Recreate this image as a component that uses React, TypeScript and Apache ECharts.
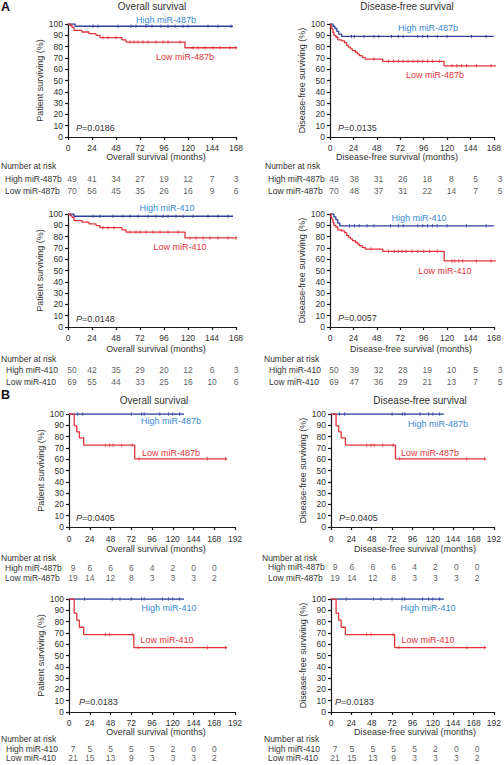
import React, { useEffect, useRef } from "react";
import * as echarts from "echarts";

const FONT = "'Liberation Sans', Arial, Helvetica, sans-serif";
const HIGH_LINE = "#2f3f9c";
const HIGH_TEXT = "#3a8ad2";
const LOW_LINE = "#e2343c";
const LOW_TEXT = "#e2343c";
const INK = "#333333";
const AXIS = "#1a1a1a";

// months at which the numbers at risk are given
const riskMonths = [0, 24, 48, 72, 96, 120, 144, 168];

// ---- A1: overall survival, miR-487b
const a1HighT = [0, 7, 165];
const a1HighS = [100, 98, 98];
const a1HighCens = [25, 30, 50, 63, 68, 78, 84, 93, 100, 107, 115, 120, 140, 150, 163];
const a1LowT = [0, 2, 4, 6, 14, 21, 28, 32, 54, 58, 117, 169];
const a1LowS = [100, 98.6, 97.1, 94.3, 92.9, 91.4, 89.9, 88.0, 86.0, 84.0, 79.0, 79.0];
const a1LowCens = [35, 40, 48, 62, 66, 70, 75, 80, 88, 95, 100, 112, 125, 130, 137, 145, 152, 162, 168];
const a1RiskHigh = [49, 41, 34, 27, 19, 12, 7, 3];
const a1RiskLow = [70, 56, 45, 35, 26, 16, 9, 6];

// ---- A2: disease-free survival, miR-487b
const a2HighT = [0, 3, 5, 7, 9, 12, 168];
const a2HighS = [100, 98, 96, 93.5, 91, 89, 89];
const a2HighCens = [22, 25, 35, 45, 50, 63, 70, 75, 90, 95, 100, 110, 120, 145, 160];
const a2LowT = [0, 1, 2, 3, 4, 6, 8, 12, 15, 17, 19, 21, 23, 26, 28, 30, 33, 36, 54, 117, 170];
const a2LowS = [100, 97, 95.5, 92.5, 90, 88.5, 86, 85, 83.5, 81, 79.5, 78, 76.5, 75, 73.5, 72, 70.5, 69, 67, 63, 63];
const a2LowCens = [45, 60, 65, 70, 75, 80, 85, 90, 95, 100, 105, 112, 125, 130, 135, 140, 150, 165];
const a2RiskHigh = [49, 38, 31, 26, 18, 8, 5, 3];
const a2RiskLow = [70, 48, 37, 31, 22, 14, 7, 5];

// ---- A3: overall survival, miR-410
const a3HighT = [0, 6, 165];
const a3HighS = [100, 98, 98];
const a3HighCens = [25, 32, 45, 55, 62, 70, 80, 88, 95, 100, 108, 115, 125, 140, 150, 160];
const a3LowT = [0, 2, 4, 6, 14, 21, 28, 32, 54, 58, 117, 169];
const a3LowS = [100, 98.6, 97.1, 94.2, 92.8, 91.3, 89.8, 87.9, 86.0, 84.0, 78.8, 78.8];
const a3LowCens = [35, 40, 46, 62, 68, 72, 78, 85, 92, 100, 110, 122, 128, 135, 142, 150, 160, 168];
const a3RiskHigh = [50, 42, 35, 29, 20, 12, 6, 3];
const a3RiskLow = [69, 55, 44, 33, 25, 16, 10, 6];

// ---- A4: disease-free survival, miR-410
const a4HighT = [0, 4, 6, 8, 10, 168];
const a4HighS = [100, 97.5, 95, 92, 89.5, 89.5];
const a4HighCens = [20, 25, 30, 38, 45, 62, 70, 75, 90, 95, 100, 105, 110, 120, 140, 160];
const a4LowT = [0, 1, 2, 3, 4, 6, 8, 12, 15, 17, 19, 21, 23, 26, 28, 30, 33, 36, 54, 117, 170];
const a4LowS = [100, 97, 95.5, 92.5, 90, 88.5, 86, 85, 83.5, 81, 79.5, 78, 76.5, 75, 73.5, 72, 70.5, 69, 67, 58.5, 58.5];
const a4LowCens = [42, 60, 66, 70, 74, 78, 84, 90, 96, 102, 110, 125, 128, 132, 136, 150, 165];
const a4RiskHigh = [50, 39, 32, 28, 19, 10, 5, 3];
const a4RiskLow = [69, 47, 36, 29, 21, 13, 7, 5];

// ---- B1 / B2: overall and disease-free survival, miR-487b
const b1HighT = [0, 133];
const b1HighS = [100, 100];
const b1HighCens = [10, 16, 72, 84, 87, 105, 115, 120, 128];
const b1LowT = [0, 6, 9, 12, 17, 76, 183];
const b1LowS = [100, 89.5, 84.2, 78.9, 72.4, 60.3, 60.3];
const b1LowCens = [42, 47, 51, 61, 73, 81, 160, 181];
const b1RiskHigh = [9, 6, 6, 6, 4, 2, 0, 0];
const b1RiskLow = [19, 14, 12, 8, 3, 3, 3, 2];

// ---- B3 / B4: overall and disease-free survival, miR-410
const b3HighT = [0, 133];
const b3HighS = [100, 100];
const b3HighCens = [18, 50, 59, 72, 84, 87, 108, 115, 120, 128];
const b3LowT = [0, 6, 9, 12, 17, 75, 183];
const b3LowS = [100, 87.5, 81.3, 75, 68.5, 57, 57];
const b3LowCens = [42, 47, 73, 80, 160, 181];
const b3RiskHigh = [7, 5, 5, 5, 5, 2, 0, 0];
const b3RiskLow = [21, 15, 13, 9, 3, 3, 3, 2];

type Curve = { t: number[]; s: number[]; c: number[] };
type Panel = {
  title?: string;
  xName: string;
  yName: string;
  max: number;
  high: Curve;
  low: Curve;
  highName: string;
  lowName: string;
  riskHigh: number[];
  riskLow: number[];
  p: string;
  L: {
    left: number; top: number; width: number; height: number;
    titleX?: number; titleY?: number;
    xLabelMargin: number; xNameGap: number; xNamePad: number[];
    hx: number; hy: number; lx: number; ly: number; px: number; py: number;
    headX: number; headY: number; rowX: number; riskTop: number; riskBottom: number;
  };
};

const OS = "Overall survival";
const DFS = "Disease-free survival";

const panels: Panel[] = [
  {
    title: OS, xName: "Overall survival (months)", yName: "Patient surviving (%)", max: 168,
    high: { t: a1HighT, s: a1HighS, c: a1HighCens }, low: { t: a1LowT, s: a1LowS, c: a1LowCens },
    highName: "High miR-487b", lowName: "Low miR-487b", riskHigh: a1RiskHigh, riskLow: a1RiskLow, p: "=0.0186",
    L: { left: 68, top: 24, width: 168, height: 113, titleX: 152, titleY: 6, xLabelMargin: 6, xNameGap: 15, xNamePad: [0, 0, 0, 8],
      hx: 166, hy: 20, lx: 185, ly: 57, px: 76, py: 128, headX: 1, headY: 166, rowX: 5, riskTop: 179, riskBottom: 191 },
  },
  {
    title: DFS, xName: "Disease-free survival (months)", yName: "Disease-free surviving (%)", max: 168,
    high: { t: a2HighT, s: a2HighS, c: a2HighCens }, low: { t: a2LowT, s: a2LowS, c: a2LowCens },
    highName: "High miR-487b", lowName: "Low miR-487b", riskHigh: a2RiskHigh, riskLow: a2RiskLow, p: "=0.0135",
    L: { left: 330, top: 24, width: 170, height: 113, titleX: 407, titleY: 6, xLabelMargin: 6, xNameGap: 15, xNamePad: [0, 30, 0, 0],
      hx: 428, hy: 28, lx: 435, ly: 75, px: 338, py: 128, headX: 265, headY: 166, rowX: 268, riskTop: 179, riskBottom: 191 },
  },
  {
    xName: "Overall survival (months)", yName: "Patient surviving (%)", max: 168,
    high: { t: a3HighT, s: a3HighS, c: a3HighCens }, low: { t: a3LowT, s: a3LowS, c: a3LowCens },
    highName: "High miR-410", lowName: "Low miR-410", riskHigh: a3RiskHigh, riskLow: a3RiskLow, p: "=0.0148",
    L: { left: 68, top: 214, width: 168, height: 113, xLabelMargin: 6, xNameGap: 17, xNamePad: [0, 0, 0, 8],
      hx: 167, hy: 208, lx: 180, ly: 247, px: 76, py: 319, headX: 1, headY: 359, rowX: 6, riskTop: 370, riskBottom: 382 },
  },
  {
    xName: "Disease-free survival (months)", yName: "Disease-free surviving (%)", max: 168,
    high: { t: a4HighT, s: a4HighS, c: a4HighCens }, low: { t: a4LowT, s: a4LowS, c: a4LowCens },
    highName: "High miR-410", lowName: "Low miR-410", riskHigh: a4RiskHigh, riskLow: a4RiskLow, p: "=0.0057",
    L: { left: 330, top: 214, width: 170, height: 113, xLabelMargin: 6, xNameGap: 17, xNamePad: [0, 2, 0, 0],
      hx: 419, hy: 218, lx: 445, ly: 271, px: 338, py: 318, headX: 264, headY: 359, rowX: 269, riskTop: 370, riskBottom: 382 },
  },
  {
    title: OS, xName: "Overall survival (months)", yName: "Patient surviving (%)", max: 192,
    high: { t: b1HighT, s: b1HighS, c: b1HighCens }, low: { t: b1LowT, s: b1LowS, c: b1LowCens },
    highName: "High miR-487b", lowName: "Low miR-487b", riskHigh: b1RiskHigh, riskLow: b1RiskLow, p: "=0.0405",
    L: { left: 69, top: 414, width: 166, height: 113, titleX: 154, titleY: 400, xLabelMargin: 7, xNameGap: 17, xNamePad: [0, 0, 0, 8],
      hx: 171, hy: 421, lx: 171, ly: 453, px: 76, py: 518, headX: 1, headY: 558, rowX: 5, riskTop: 568, riskBottom: 578 },
  },
  {
    title: DFS, xName: "Disease-free survival (months)", yName: "Disease-free surviving (%)", max: 192,
    high: { t: b1HighT, s: b1HighS, c: b1HighCens }, low: { t: b1LowT, s: b1LowS, c: b1LowCens },
    highName: "High miR-487b", lowName: "Low miR-487b", riskHigh: b1RiskHigh, riskLow: b1RiskLow, p: "=0.0405",
    L: { left: 331, top: 414, width: 167, height: 113, titleX: 420, titleY: 400, xLabelMargin: 7, xNameGap: 17, xNamePad: [0, 0, 0, 5],
      hx: 438, hy: 424, lx: 430, ly: 453, px: 339, py: 518, headX: 262, headY: 558, rowX: 268, riskTop: 567, riskBottom: 578 },
  },
  {
    xName: "Overall survival (months)", yName: "Patient surviving (%)", max: 192,
    high: { t: b3HighT, s: b3HighS, c: b3HighCens }, low: { t: b3LowT, s: b3LowS, c: b3LowCens },
    highName: "High miR-410", lowName: "Low miR-410", riskHigh: b3RiskHigh, riskLow: b3RiskLow, p: "=0.0183",
    L: { left: 69, top: 599, width: 166, height: 113, xLabelMargin: 6, xNameGap: 15, xNamePad: [0, 0, 0, 8],
      hx: 169, hy: 608, lx: 167, ly: 640, px: 79, py: 702, headX: 1, headY: 739, rowX: 6, riskTop: 749, riskBottom: 758 },
  },
  {
    xName: "Disease-free survival (months)", yName: "Disease-free surviving (%)", max: 192,
    high: { t: b3HighT, s: b3HighS, c: b3HighCens }, low: { t: b3LowT, s: b3LowS, c: b3LowCens },
    highName: "High miR-410", lowName: "Low miR-410", riskHigh: b3RiskHigh, riskLow: b3RiskLow, p: "=0.0183",
    L: { left: 331, top: 599, width: 167, height: 113, xLabelMargin: 6, xNameGap: 15, xNamePad: [0, 0, 0, 5],
      hx: 428, hy: 608, lx: 428, ly: 640, px: 335, py: 702, headX: 264, headY: 739, rowX: 268, riskTop: 749, riskBottom: 758 },
  },
];

const FS = 8.5; // base text size

function survAt(c: Curve, t: number): number {
  let v = c.s[0];
  for (let i = 0; i < c.t.length; i++) if (c.t[i] <= t) v = c.s[i];
  return v;
}

function txt(text: string, x: number, y: number, o: any = {}) {
  return {
    type: "text",
    x,
    y,
    silent: true,
    style: {
      text,
      fill: o.fill ?? INK,
      fontSize: o.size ?? FS,
      fontFamily: FONT,
      fontWeight: o.weight ?? "normal",
      align: o.align ?? "left",
      verticalAlign: "middle",
      rich: o.rich,
    },
  };
}

function buildOption() {
  const grid: any[] = [];
  const xAxis: any[] = [];
  const yAxis: any[] = [];
  const series: any[] = [];
  const graphic: any[] = [];

  graphic.push(txt("A", 1, 7, { size: 12.5, weight: "bold", fill: "#111" }));
  graphic.push(txt("B", 1, 395, { size: 12.5, weight: "bold", fill: "#111" }));

  const axisLineStyle = { color: AXIS, width: 1.2 };
  const labelBase = { fontSize: FS, color: INK, fontFamily: FONT };

  panels.forEach((p) => {
    const L = p.L;
    const gi = grid.length;
    grid.push({ left: L.left, top: L.top, width: L.width, height: L.height });
    xAxis.push({
      type: "value", gridIndex: gi, min: 0, max: p.max, interval: 24,
      name: p.xName, nameLocation: "middle", nameGap: L.xNameGap,
      nameTextStyle: { fontSize: 9, color: INK, fontFamily: FONT, padding: L.xNamePad },
      axisLine: { show: true, onZero: false, lineStyle: axisLineStyle },
      axisTick: { show: true, length: 3, lineStyle: axisLineStyle },
      axisLabel: { ...labelBase, margin: L.xLabelMargin },
      splitLine: { show: false },
    });
    yAxis.push({
      type: "value", gridIndex: gi, min: 0, max: 100, interval: 10,
      name: p.yName, nameLocation: "middle", nameGap: 21,
      nameTextStyle: { fontSize: 9, color: INK, fontFamily: FONT },
      axisLine: { show: true, lineStyle: axisLineStyle },
      axisTick: { show: true, length: 3, lineStyle: axisLineStyle },
      axisLabel: { ...labelBase, margin: 5 },
      splitLine: { show: false },
    });

    const curves: [Curve, string][] = [
      [p.high, HIGH_LINE],
      [p.low, LOW_LINE],
    ];
    curves.forEach(([c, col]) => {
      series.push({
        type: "line", xAxisIndex: gi, yAxisIndex: gi, step: "end", showSymbol: false,
        lineStyle: { color: col, width: 1.3 }, itemStyle: { color: col }, z: 3,
        data: c.t.map((t, k) => [t, c.s[k]]),
      });
      series.push({
        type: "scatter", xAxisIndex: gi, yAxisIndex: gi, symbol: "rect", symbolSize: [1, 3.5],
        itemStyle: { color: col }, z: 4,
        data: c.c.map((t) => [t, survAt(c, t)]),
      });
    });

    // risk table grid sharing the x scale
    const ri = grid.length;
    grid.push({ left: L.left, top: L.riskTop, width: L.width, height: L.riskBottom - L.riskTop });
    xAxis.push({ type: "value", gridIndex: ri, min: 0, max: p.max, show: false });
    yAxis.push({
      type: "category", gridIndex: ri, data: [p.lowName, p.highName], boundaryGap: false,
      axisLine: { show: false }, axisTick: { show: false }, splitLine: { show: false },
      axisLabel: { ...labelBase, align: "left", margin: L.left - L.rowX, interval: 0 },
    });
    const riskData: any[] = [];
    riskMonths.forEach((m, k) => {
      const lbl = k === 0 ? { label: { offset: [4, 0] } } : {};
      riskData.push({ value: [m, 1, p.riskHigh[k]], ...lbl });
      riskData.push({ value: [m, 0, p.riskLow[k]], ...lbl });
    });
    series.push({
      type: "scatter", xAxisIndex: ri, yAxisIndex: ri, symbolSize: 1,
      itemStyle: { color: "rgba(0,0,0,0)" },
      label: { show: true, position: "inside", formatter: (q: any) => String(q.value[2]), ...labelBase },
      data: riskData,
    });

    if (p.title) graphic.push(txt(p.title, L.titleX!, L.titleY!, { size: 10, align: "center" }));
    graphic.push(txt(p.highName, L.hx, L.hy, { fill: HIGH_TEXT, align: "center", size: 9 }));
    graphic.push(txt(p.lowName, L.lx, L.ly, { fill: LOW_TEXT, align: "center", size: 9 }));
    graphic.push(
      txt("{i|P}{n|" + p.p + "}", L.px, L.py, {
        rich: {
          i: { fontStyle: "italic", fontSize: 9, fontFamily: FONT, fill: INK },
          n: { fontSize: 9, fontFamily: FONT, fill: INK },
        },
      })
    );
    graphic.push(txt("Number at risk", L.headX, L.headY));
  });

  return {
    animation: false,
    backgroundColor: "#ffffff",
    textStyle: { fontFamily: FONT },
    grid,
    xAxis,
    yAxis,
    series,
    graphic,
  };
}

export default function App() {
  const ref = useRef<HTMLDivElement>(null);
  useEffect(() => {
    if (!ref.current) return;
    const chart = echarts.init(ref.current, undefined, { renderer: "svg" });
    chart.setOption(buildOption() as any);
    return () => chart.dispose();
  }, []);
  return (
    <div
      ref={ref}
      style={{ position: "absolute", left: 0, top: 0, width: 504, height: 765, background: "#fff" }}
    />
  );
}
